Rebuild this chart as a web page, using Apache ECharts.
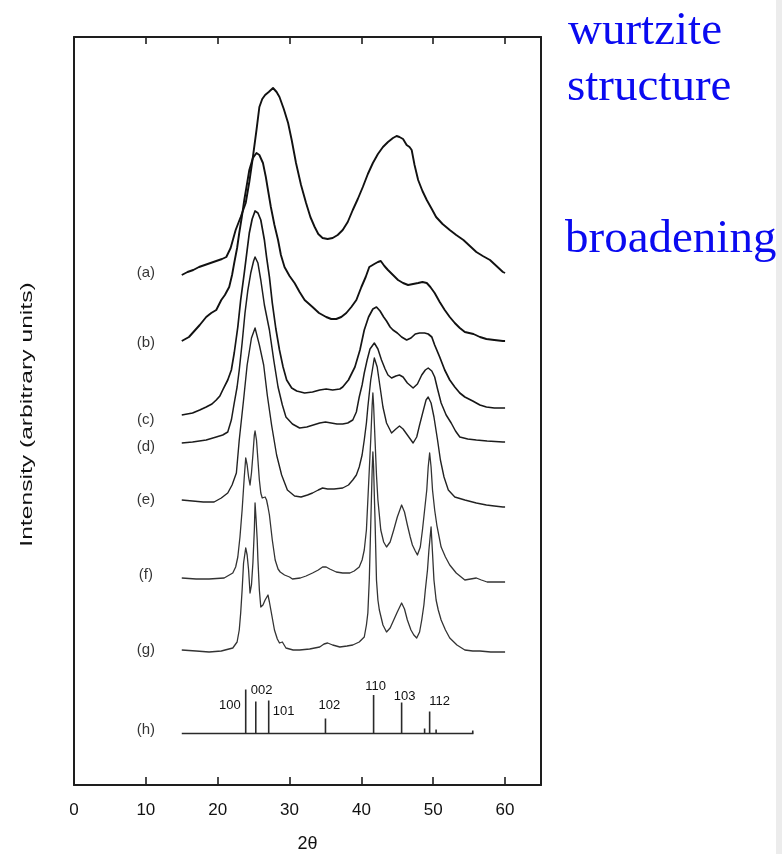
<!DOCTYPE html>
<html>
<head>
<meta charset="utf-8">
<script src="https://cdn.jsdelivr.net/npm/echarts@6/dist/echarts.min.js"></script>
<style>
  html, body { margin: 0; padding: 0; background: #ffffff; }
  #chart { width: 782px; height: 854px; }
</style>
</head>
<body>
<div id="chart"></div>
<script>
// X-ray diffraction patterns, stacked with vertical offsets (arbitrary units).
// Each trace is a list of [2θ (deg), intensity] pairs.
const curveA = [[15,510],[15.8,513],[16.6,515],[17.4,518],[18.2,520],[19,522],[19.8,524],[20.6,526],[21.2,528],[21.8,537],[22.5,555],[23.2,568],[23.9,582],[24.4,603],[24.9,628],[25.4,655],[25.8,678],[26.2,686],[26.6,690],[27.1,693],[27.7,697],[28.2,693],[28.6,688],[29.2,676],[29.8,662],[30.3,645],[30.9,622],[31.6,600],[32.3,582],[32.9,568],[33.5,558],[34.0,551],[34.6,547],[35.3,546],[36.0,547],[36.7,550],[37.4,555],[38.1,563],[38.8,575],[39.5,586],[40.2,598],[40.9,611],[41.6,622],[42.3,631],[43.0,638],[43.7,643],[44.4,647],[44.9,649],[45.3,648],[45.8,646],[46.3,640],[46.7,638],[47.0,635],[47.4,620],[47.9,605],[48.5,594],[49.1,585],[49.8,576],[50.4,568],[51.3,561],[52.3,555],[53.2,550],[54.2,545],[55.1,539],[56.0,533],[56.9,529],[57.9,525],[58.8,519],[59.7,513],[60,512]];
const curveB = [[15,444],[16,448],[16.5,452],[17.5,460],[18.4,468],[19.1,472],[19.8,475],[20.5,485],[21.0,490],[21.6,498],[22.0,510],[22.3,522],[22.7,537],[23.0,552],[23.4,570],[23.7,585],[24.1,602],[24.4,615],[24.9,627],[25.4,632],[25.8,630],[26.3,622],[26.7,608],[27.0,595],[27.4,578],[27.9,560],[28.4,545],[28.8,530],[29.3,518],[30.0,509],[30.7,502],[31.4,493],[32.1,485],[33.2,478],[34.1,472],[35.1,468],[35.8,466],[36.5,466],[37.2,468],[37.9,472],[38.6,478],[39.3,485],[40.0,498],[40.6,508],[41.1,518],[41.8,521],[42.3,523],[42.7,524],[43.2,519],[43.7,515],[44.4,510],[45.1,505],[45.8,502],[46.5,500],[47.2,501],[47.9,502],[48.5,503],[49.1,502],[49.6,498],[50.2,492],[50.9,483],[51.6,475],[52.3,468],[53.0,462],[53.7,457],[54.4,453],[55.6,451],[56.5,448],[57.4,446],[58.5,445],[59.7,444],[60,444]];
const curveC = [[15,370],[16.5,372],[17.5,375],[18.4,378],[19.2,381],[19.8,385],[20.3,389],[20.7,395],[21.4,405],[21.9,415],[22.3,432],[22.8,458],[23.2,485],[23.7,512],[24.1,535],[24.4,552],[24.8,566],[25.2,574],[25.6,572],[26.0,565],[26.5,545],[26.8,528],[27.2,508],[27.6,482],[28.1,456],[28.6,435],[29.1,418],[29.6,405],[30.3,397],[31.0,394],[32.1,392],[33.2,393],[34.2,395],[35.1,396],[36.0,395],[37.0,396],[37.4,398],[38.2,405],[39.1,418],[39.8,435],[40.4,455],[41.0,468],[41.6,476],[42.1,478],[42.6,474],[43.1,468],[43.5,464],[44.0,458],[44.4,455],[45.0,452],[45.6,448],[46.3,445],[46.9,447],[47.5,451],[48.1,452],[48.8,452],[49.3,451],[49.8,448],[50.2,440],[50.9,428],[51.6,415],[52.3,405],[53.0,398],[53.7,392],[54.4,388],[55.5,384],[56.5,380],[57.4,378],[58.5,377],[59.7,377],[60,377]];
const curveD = [[15,342],[16.5,343],[18.4,345],[19.8,348],[20.7,350],[21.4,353],[21.9,365],[22.3,382],[22.7,398],[23.0,415],[23.4,442],[23.8,472],[24.2,495],[24.6,512],[25.0,524],[25.2,528],[25.6,522],[26.0,505],[26.5,480],[27.2,455],[27.8,425],[28.4,398],[29.0,380],[29.5,368],[30.4,361],[31.4,357],[32.4,358],[33.3,360],[34.2,362],[35.0,363],[35.8,362],[36.6,361],[37.4,361],[38.1,362],[38.8,365],[39.3,373],[39.7,388],[40.1,400],[40.4,412],[40.8,425],[41.2,436],[41.8,442],[42.3,436],[42.8,425],[43.3,416],[43.7,410],[44.2,407],[44.8,409],[45.3,410],[45.8,408],[46.4,402],[47.2,397],[47.8,401],[48.4,410],[48.9,415],[49.3,417],[49.8,414],[50.2,408],[50.6,396],[51.1,382],[51.8,370],[52.5,362],[53.1,354],[53.7,348],[54.8,346],[56.0,345],[57.5,344],[59.7,343],[60,343]];
const curveE = [[15,285],[16.5,284],[18.0,283],[19.5,283],[20.5,287],[21.4,292],[22.0,300],[22.6,312],[23.0,345],[23.3,365],[23.6,385],[24.1,420],[24.7,447],[25.2,457],[25.8,440],[26.4,420],[26.9,390],[27.5,360],[28.2,330],[28.9,310],[29.7,295],[30.7,289],[31.6,288],[32.5,290],[33.2,292],[34.0,295],[34.6,297],[35.3,296],[36.2,296],[37.4,297],[38.2,300],[38.8,305],[39.3,310],[39.7,318],[40.1,330],[40.4,345],[40.7,362],[40.9,378],[41.3,405],[41.8,427],[42.2,418],[42.6,398],[43.0,378],[43.5,362],[44.2,352],[44.8,356],[45.3,359],[45.8,356],[46.4,350],[47.2,342],[47.7,348],[48.1,360],[48.6,374],[49.0,385],[49.3,388],[49.7,382],[50.1,368],[50.6,345],[51.0,325],[51.5,308],[52.1,295],[53.0,288],[54.4,285],[56.0,282],[57.4,280],[58.5,279],[59.7,278],[60,278]];
const curveF = [[15,207],[17,206],[18.8,206],[20.9,207],[22.1,212],[22.5,218],[22.8,228],[23.1,248],[23.4,275],[23.7,308],[23.9,327],[24.1,320],[24.3,308],[24.5,300],[24.7,312],[24.9,330],[25.1,350],[25.2,354],[25.4,345],[25.6,325],[25.8,305],[26.0,292],[26.2,287],[26.4,286],[26.6,288],[26.8,285],[27.0,278],[27.2,270],[27.6,245],[28.0,225],[28.4,216],[28.7,213],[29.3,210],[30.0,208],[30.4,206],[31.5,207],[32.3,209],[33.2,212],[34.0,215],[34.6,218],[35.1,218],[35.6,216],[36.5,213],[37.4,212],[38.4,212],[39.0,214],[39.7,218],[40.1,225],[40.4,235],[40.7,255],[40.9,285],[41.1,315],[41.3,345],[41.5,380],[41.6,392],[41.7,380],[41.9,345],[42.1,310],[42.3,285],[42.7,255],[43.1,243],[43.5,238],[44.0,243],[44.5,255],[45.0,268],[45.6,280],[46.0,273],[46.4,260],[46.8,248],[47.1,240],[47.5,234],[47.8,230],[48.2,238],[48.5,255],[48.8,275],[49.1,295],[49.3,318],[49.5,332],[49.7,318],[49.9,295],[50.2,275],[50.5,260],[51.1,238],[51.7,228],[52.3,220],[53.2,212],[54.4,205],[55.2,206],[56.0,207],[56.7,205],[57.5,203],[58.3,203],[59.2,203],[60,203]];
const curveG = [[15,135],[17,134],[18.8,133],[20.5,134],[22.1,137],[22.7,143],[23.0,155],[23.2,172],[23.4,195],[23.6,222],[23.9,237],[24.1,230],[24.3,215],[24.5,192],[24.7,200],[24.9,222],[25.1,255],[25.2,282],[25.35,265],[25.5,245],[25.6,225],[25.8,195],[26.0,178],[26.3,180],[26.6,185],[27.0,190],[27.2,183],[27.4,175],[27.9,155],[28.3,146],[28.6,142],[29.0,143],[29.2,141],[29.5,137],[30.5,135],[31.4,135],[32.8,136],[34.2,138],[34.8,141],[35.3,142],[36.0,140],[37.0,138],[38.0,139],[38.8,140],[39.7,143],[40.4,148],[40.7,160],[40.9,172],[41.1,205],[41.3,260],[41.5,315],[41.6,333],[41.7,318],[41.8,290],[41.9,265],[42.1,205],[42.3,185],[42.5,175],[43.0,160],[43.5,153],[44.0,157],[44.5,165],[45.0,173],[45.6,182],[46.0,176],[46.4,165],[46.9,155],[47.3,150],[47.7,147],[48.1,153],[48.4,165],[48.7,180],[48.9,195],[49.2,215],[49.4,235],[49.7,258],[49.9,232],[50.1,205],[50.4,185],[50.7,175],[51.1,165],[51.7,155],[52.3,147],[53.3,140],[54.4,135],[55.5,134],[56.5,134],[58,133],[60,133]];

// Reference stick pattern (h) for the wurtzite phase
const stickBaseLevel = 51.5;
const stickRange = [15, 55.6];
const stickPositions = [23.9, 25.3, 27.1, 35.0, 41.7, 45.6, 48.8, 49.5, 50.4, 55.5];
const stickHeights   = [44, 32, 33, 15, 38.5, 31, 5, 22, 4, 3];
const stickIndices   = ['100', '002', '101', '102', '110', '103', '', '112', '', ''];

// Trace labels placed at 2θ = 10
const traceNames  = ['(a)', '(b)', '(c)', '(d)', '(e)', '(f)', '(g)', '(h)'];
const traceLevels = [512, 442, 365, 338, 285, 210, 135, 55];
const labelTheta = 10;

const xTickStep = 10;
const sideNotes = ['wurtzite', 'structure', 'broadening'];

// Styling for each trace
const traceStyles = [
  { color: '#111', width: 1.9 },
  { color: '#111', width: 1.9 },
  { color: '#151515', width: 1.7 },
  { color: '#1c1c1c', width: 1.5 },
  { color: '#222', width: 1.4 },
  { color: '#333', width: 1.3 },
  { color: '#333', width: 1.3 }
];

// Offsets of the Miller-index labels relative to each stick top (px)
const indexLabelPlacement = {
  '100': { dx: -5, dy: 16, align: 'right' },
  '002': { dx: -5, dy: -11, align: 'left' },
  '101': { dx: 4, dy: 11, align: 'left' },
  '102': { dx: 4, dy: -13, align: 'center' },
  '110': { dx: 2, dy: -9, align: 'center' },
  '103': { dx: 3, dy: -6, align: 'center' },
  '112': { dx: 10, dy: -10, align: 'center' }
};

const chart = echarts.init(document.getElementById('chart'), null, { renderer: 'canvas' });

const traces = [curveA, curveB, curveC, curveD, curveE, curveF, curveG];
const axisColor = '#1e1e1e';
const sansFont = '"Liberation Sans", Arial, sans-serif';
const serifFont = '"Liberation Serif", "Times New Roman", serif';

const lineSeries = traces.map((data, i) => ({
  type: 'line',
  data: data,
  showSymbol: false,
  symbol: 'none',
  silent: true,
  lineStyle: { color: traceStyles[i].color, width: traceStyles[i].width, join: 'round' },
  z: 3
}));

const stickSeries = {
  type: 'custom',
  silent: true,
  data: stickPositions.map((t, i) => [t, stickHeights[i], i]),
  renderItem: function (params, api) {
    const t = api.value(0);
    const h = api.value(1);
    const idx = api.value(2);
    const base = api.coord([t, stickBaseLevel]);
    const top = api.coord([t, stickBaseLevel + h]);
    const children = [{
      type: 'line',
      shape: { x1: base[0], y1: base[1], x2: top[0], y2: top[1] },
      style: { stroke: '#2a2a2a', lineWidth: 1.6 }
    }];
    const name = stickIndices[idx];
    if (name) {
      const p = indexLabelPlacement[name];
      children.push({
        type: 'text',
        x: top[0] + p.dx,
        y: top[1] + p.dy,
        style: {
          text: name,
          fill: '#111',
          font: '13px ' + sansFont,
          align: p.align,
          verticalAlign: 'middle'
        }
      });
    }
    return { type: 'group', children: children };
  },
  z: 4
};

const stickBaseline = {
  type: 'line',
  data: stickRange.map(t => [t, stickBaseLevel]),
  showSymbol: false,
  symbol: 'none',
  silent: true,
  lineStyle: { color: '#2a2a2a', width: 1.5 },
  z: 3
};

const traceLabelSeries = {
  type: 'scatter',
  symbolSize: 0,
  silent: true,
  data: traceNames.map((n, i) => ({ name: n, value: [labelTheta, traceLevels[i]] })),
  label: {
    show: true,
    position: 'inside',
    formatter: p => p.name,
    color: '#000',
    fontSize: 15,
    fontFamily: sansFont
  },
  z: 5
};

const option = {
  animation: false,
  backgroundColor: '#ffffff',
  grid: { left: 74, right: 241, top: 37, bottom: 69, containLabel: false, outerBoundsMode: 'none' },
  xAxis: [
    {
      type: 'value',
      position: 'bottom',
      min: 0,
      max: 65,
      interval: xTickStep,
      name: '2θ',
      nameLocation: 'middle',
      nameGap: 50,
      nameTextStyle: { color: '#111', fontSize: 18, fontFamily: sansFont },
      axisLine: { show: true, onZero: false, lineStyle: { color: axisColor, width: 2 } },
      axisTick: { show: true, inside: true, length: 8, lineStyle: { color: axisColor, width: 1.6 } },
      axisLabel: { show: true, margin: 17, color: '#111', fontSize: 17, fontFamily: sansFont, showMaxLabel: false },
      splitLine: { show: false }
    },
    {
      type: 'value',
      position: 'top',
      min: 0,
      max: 65,
      interval: xTickStep,
      axisLine: { show: true, onZero: false, lineStyle: { color: axisColor, width: 2 } },
      axisTick: { show: true, inside: true, length: 7, lineStyle: { color: axisColor, width: 1.6 } },
      axisLabel: { show: false },
      splitLine: { show: false }
    }
  ],
  yAxis: [
    {
      type: 'value',
      position: 'left',
      min: 0,
      max: 748,
      axisLine: { show: true, onZero: false, lineStyle: { color: axisColor, width: 2 } },
      axisTick: { show: false },
      axisLabel: { show: false },
      splitLine: { show: false }
    },
    {
      type: 'value',
      position: 'right',
      min: 0,
      max: 748,
      axisLine: { show: true, onZero: false, lineStyle: { color: axisColor, width: 2 } },
      axisTick: { show: false },
      axisLabel: { show: false },
      splitLine: { show: false }
    }
  ],
  series: lineSeries.concat([stickBaseline, stickSeries, traceLabelSeries]),
  graphic: [
    {
      type: 'rect',
      left: 776, top: 0,
      shape: { width: 6, height: 854 },
      style: { fill: '#ececec' },
      silent: true
    },
    {
      type: 'text',
      x: 27.5, y: 414.5,
      rotation: Math.PI / 2,
      scaleX: 1.45,
      style: {
        text: 'Intensity (arbitrary units)',
        fill: '#111',
        font: '17px ' + sansFont,
        align: 'center',
        verticalAlign: 'middle'
      },
      silent: true
    },
    {
      type: 'text', x: 568, y: 32,
      style: { text: sideNotes[0], fill: '#0a0af0', font: '47px ' + serifFont, align: 'left', verticalAlign: 'middle' },
      silent: true
    },
    {
      type: 'text', x: 567, y: 88,
      style: { text: sideNotes[1], fill: '#0a0af0', font: '47px ' + serifFont, align: 'left', verticalAlign: 'middle' },
      silent: true
    },
    {
      type: 'text', x: 565, y: 240,
      style: { text: sideNotes[2], fill: '#0a0af0', font: '47px ' + serifFont, align: 'left', verticalAlign: 'middle' },
      silent: true
    }
  ]
};

chart.setOption(option);
</script>
</body>
</html>
